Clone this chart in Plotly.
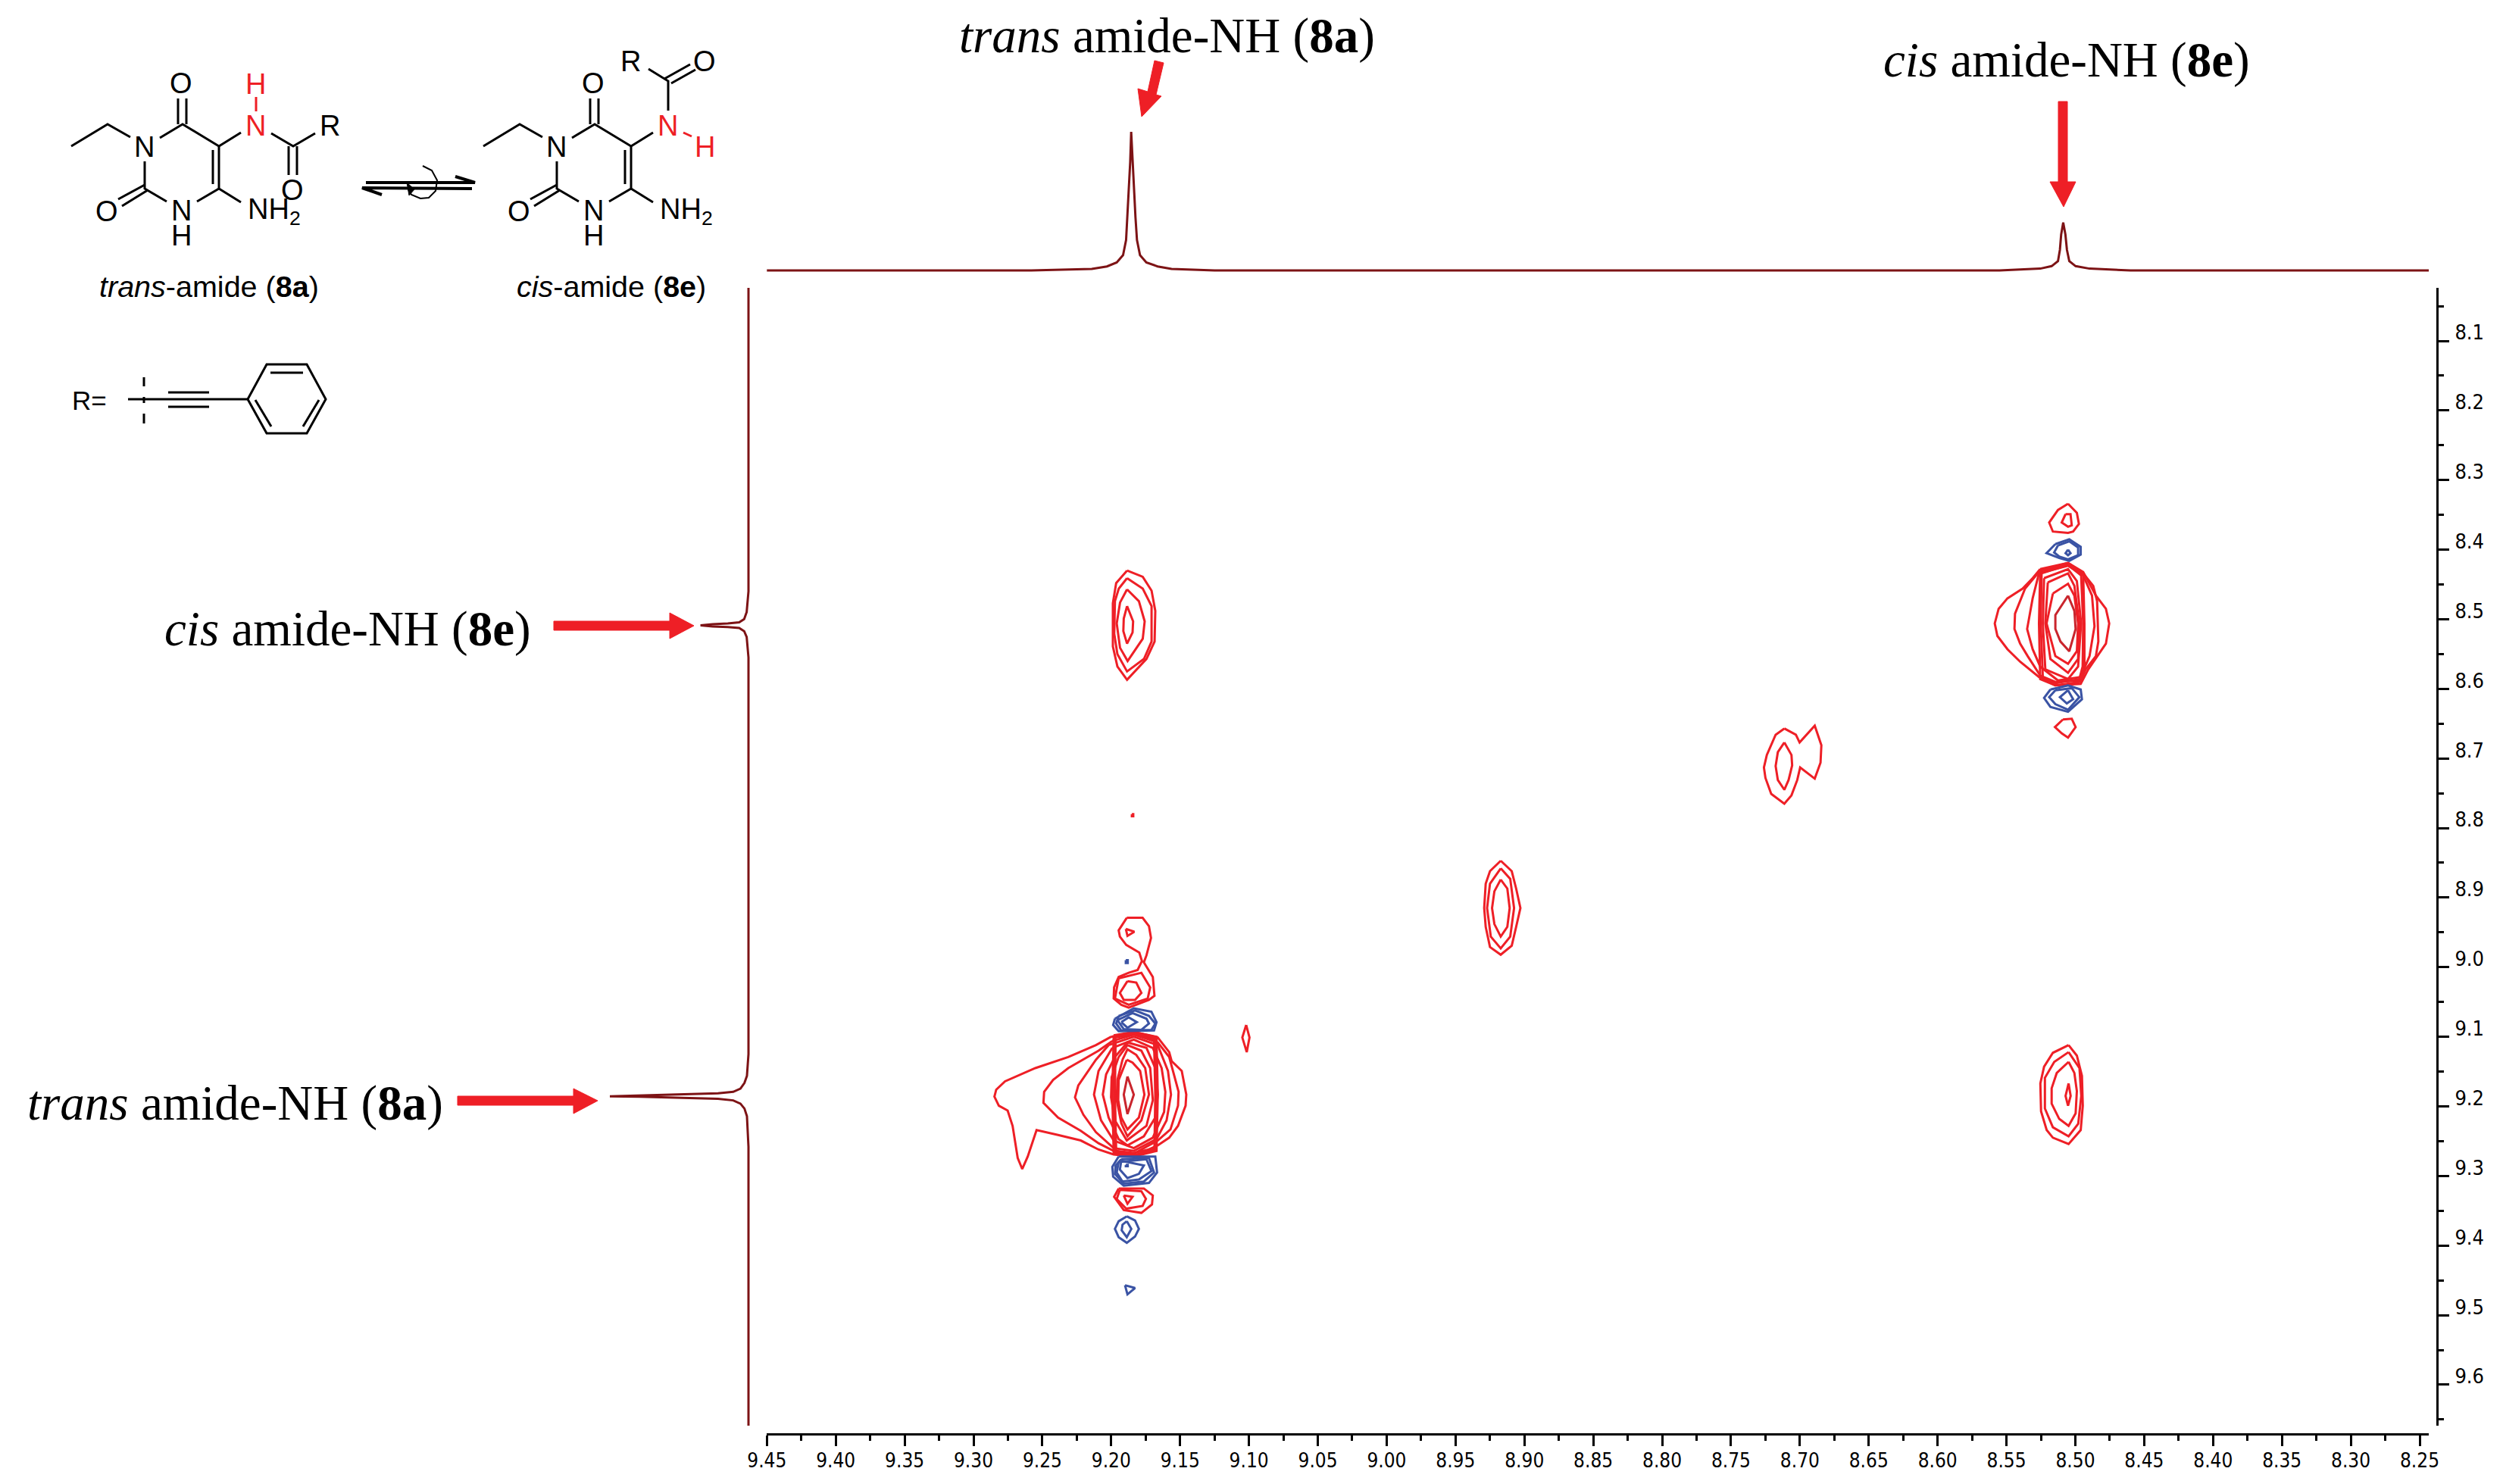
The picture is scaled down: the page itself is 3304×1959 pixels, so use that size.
import plotly.graph_objects as go

WIDTH = 3304
HEIGHT = 1959

RED = "#ee1f26"
DARK_RED = "#c9252d"
BLUE = "#3a53a4"
BROWN = "#7d1315"
SANS = "Liberation Sans"
SERIF = "Liberation Serif"
NARROW = "DejaVu Sans Condensed"

# axes (ppm)
X_TICKS = [9.45, 9.40, 9.35, 9.30, 9.25, 9.20, 9.15, 9.10, 9.05, 9.00, 8.95, 8.90, 8.85,
           8.80, 8.75, 8.70, 8.65, 8.60, 8.55, 8.50, 8.45, 8.40, 8.35, 8.30, 8.25]
X_MINOR = [9.425, 9.375, 9.325, 9.275, 9.225, 9.175, 9.125, 9.075, 9.025, 8.975, 8.925, 8.875,
           8.825, 8.775, 8.725, 8.675, 8.625, 8.575, 8.525, 8.475, 8.425, 8.375, 8.325, 8.275]
Y_TICKS = [8.1, 8.2, 8.3, 8.4, 8.5, 8.6, 8.7, 8.8, 8.9, 9.0, 9.1, 9.2, 9.3, 9.4, 9.5, 9.6]
Y_MINOR = [8.05, 8.15, 8.25, 8.35, 8.45, 8.55, 8.65, 8.75, 8.85, 8.95, 9.05, 9.15, 9.25, 9.35,
           9.45, 9.55, 9.65]

# 1D projection, same trace along both axes
PROJ_PPM = [9.6588, 9.45, 9.264, 9.258, 9.2141, 9.2031, 9.1960, 9.1914, 9.1892, 9.1882, 9.1870,
            9.1862, 9.1855, 9.1844, 9.1837, 9.1824, 9.1813, 9.1791, 9.1745, 9.1663, 9.1562, 9.125,
            8.555, 8.5255, 8.5172, 8.5126, 8.5112, 8.5103, 8.5088, 8.5072, 8.5061, 8.5044, 8.4998,
            8.4897, 8.46, 8.2434, 8.0238]
PROJ_INT = [0, 0, 0.3, 0, 1.1, 2.9, 5.8, 11, 22, 38.5, 60, 78.5, 100, 78.5, 60, 38.5, 22, 11,
            5.8, 2.9, 1.1, 0, 0, 1.3, 3.1, 6.7, 14.9, 25.8, 34.6, 25.8, 14.9, 6.7, 3.1, 1.3, 0, 0, 0]

# contours, (F2 ppm, F1 ppm)
TRANS_MAIN = [
    [(9.2001, 9.100), (9.2111, 9.112), (9.2312, 9.129), (9.2551, 9.145), (9.2771, 9.164), (9.2835, 9.176),
     (9.2848, 9.186), (9.2816, 9.199), (9.2752, 9.206), (9.2716, 9.228), (9.2679, 9.274), (9.2646, 9.290),
     (9.2606, 9.272), (9.2542, 9.234), (9.2386, 9.241), (9.2221, 9.249), (9.2092, 9.262), (9.1982, 9.269),
     (9.1836, 9.272), (9.1662, 9.256), (9.1579, 9.245), (9.1515, 9.228), (9.1460, 9.199), (9.1455, 9.183),
     (9.1488, 9.149), (9.1561, 9.135), (9.1579, 9.122), (9.1662, 9.101), (9.1836, 9.093)],
    [(9.1992, 9.106), (9.2092, 9.120), (9.2312, 9.145), (9.2422, 9.162), (9.2487, 9.179), (9.2492, 9.195),
     (9.2386, 9.216), (9.2221, 9.235), (9.2092, 9.253), (9.1982, 9.264), (9.1836, 9.268), (9.1662, 9.249),
     (9.1570, 9.233), (9.1515, 9.199), (9.1511, 9.179), (9.1543, 9.154), (9.1579, 9.129), (9.1662, 9.108),
     (9.1836, 9.097)],
    [(9.2019, 9.112), (9.2111, 9.133), (9.2239, 9.170), (9.2263, 9.187), (9.2202, 9.212), (9.2111, 9.237),
     (9.1982, 9.260), (9.1836, 9.264), (9.1671, 9.247), (9.1598, 9.220), (9.1566, 9.183), (9.1588, 9.149),
     (9.1662, 9.112), (9.1836, 9.100)],
    [(9.1992, 9.116), (9.2092, 9.149), (9.2125, 9.183), (9.2074, 9.220), (9.1982, 9.249), (9.1836, 9.260),
     (9.1698, 9.245), (9.1616, 9.208), (9.1607, 9.179), (9.1634, 9.145), (9.1698, 9.116), (9.1836, 9.104)],
    [(9.1973, 9.129), (9.2037, 9.154), (9.2061, 9.183), (9.2019, 9.216), (9.1946, 9.247), (9.1882, 9.256),
     (9.1763, 9.243), (9.1680, 9.216), (9.1662, 9.183), (9.1680, 9.145), (9.1744, 9.116), (9.1882, 9.108)],
    [(9.1946, 9.129), (9.1997, 9.158), (9.2001, 9.187), (9.1973, 9.220), (9.1887, 9.249), (9.1744, 9.228),
     (9.1698, 9.191), (9.1717, 9.145), (9.1781, 9.120), (9.1882, 9.112)],
    [(9.1918, 9.133), (9.1955, 9.162), (9.1960, 9.191), (9.1927, 9.224), (9.1882, 9.243), (9.1781, 9.220),
     (9.1726, 9.183), (9.1753, 9.145), (9.1818, 9.126), (9.1882, 9.118)],
    [(9.1887, 9.133), (9.1946, 9.162), (9.1949, 9.191), (9.1927, 9.216), (9.1882, 9.233), (9.1799, 9.216),
     (9.1759, 9.183), (9.1790, 9.149), (9.1845, 9.137)],
    [(9.1982, 9.098), (9.1992, 9.183), (9.1982, 9.268), (9.1836, 9.272), (9.1671, 9.264), (9.1662, 9.183),
     (9.1671, 9.100), (9.1836, 9.093)],
    [(9.1968, 9.101), (9.1973, 9.183), (9.1964, 9.264), (9.1836, 9.267), (9.1686, 9.260), (9.1680, 9.183),
     (9.1689, 9.104), (9.1836, 9.096)],
    [(9.1978, 9.100), (9.1979, 9.183), (9.1973, 9.266), (9.1836, 9.270), (9.1680, 9.262), (9.1671, 9.183),
     (9.1680, 9.102), (9.1836, 9.095)],
]
TRANS_CORE = [[(9.1882, 9.157), (9.1909, 9.183), (9.1882, 9.211), (9.1836, 9.183)]]
TRANS_RED_LOBES = [
    [(9.1887, 8.929), (9.1772, 8.929), (9.1726, 8.941), (9.1711, 8.958), (9.1744, 8.983), (9.1763, 8.993),
     (9.1698, 9.014), (9.1686, 9.041), (9.1726, 9.047), (9.1873, 9.058), (9.1927, 9.054), (9.1982, 9.045),
     (9.1979, 9.029), (9.1946, 9.014), (9.1873, 9.008), (9.1808, 9.004), (9.1777, 8.991), (9.1796, 8.979),
     (9.1891, 8.968), (9.1937, 8.956), (9.1946, 8.947)],
    [(9.1894, 8.945), (9.1832, 8.949), (9.1882, 8.955)],
    [(9.1946, 9.016), (9.1781, 9.008), (9.1717, 9.029), (9.1735, 9.045), (9.1873, 9.054), (9.1973, 9.045)],
    [(9.1882, 9.020), (9.1818, 9.022), (9.1781, 9.037), (9.1827, 9.047), (9.1909, 9.047), (9.1937, 9.037)],
    [(9.1946, 9.318), (9.1763, 9.318), (9.1698, 9.328), (9.1704, 9.341), (9.1781, 9.353), (9.1909, 9.349),
     (9.1979, 9.330)],
    [(9.1937, 9.320), (9.1781, 9.322), (9.1748, 9.333), (9.1772, 9.343), (9.1891, 9.347), (9.1960, 9.333)],
    [(9.1909, 9.328), (9.1845, 9.330), (9.1882, 9.340)],
]
TRANS_BLUE_LOBES = [
    [(9.1894, 8.990), (9.1880, 8.990), (9.1880, 8.994), (9.1894, 8.994)],
    [(9.1973, 9.074), (9.1836, 9.059), (9.1708, 9.064), (9.1671, 9.079), (9.1689, 9.091), (9.1946, 9.092),
     (9.1986, 9.083)],
    [(9.1946, 9.070), (9.1827, 9.062), (9.1726, 9.070), (9.1680, 9.081), (9.1708, 9.090), (9.1927, 9.091),
     (9.1964, 9.081)],
    [(9.1955, 9.076), (9.1845, 9.066), (9.1744, 9.074), (9.1726, 9.081), (9.1781, 9.090), (9.1909, 9.089)],
    [(9.1927, 9.079), (9.1873, 9.072), (9.1814, 9.079), (9.1882, 9.087)],
    [(9.1946, 9.272), (9.1680, 9.272), (9.1667, 9.295), (9.1726, 9.310), (9.1909, 9.314), (9.1986, 9.301),
     (9.1992, 9.287)],
    [(9.1927, 9.276), (9.1726, 9.274), (9.1689, 9.295), (9.1763, 9.308), (9.1909, 9.311), (9.1973, 9.297),
     (9.1968, 9.285)],
    [(9.1946, 9.280), (9.1744, 9.276), (9.1708, 9.293), (9.1799, 9.305), (9.1918, 9.308), (9.1960, 9.295)],
    [(9.1927, 9.278), (9.1763, 9.285), (9.1799, 9.297), (9.1882, 9.303), (9.1937, 9.291)],
    [(9.1894, 9.284), (9.1880, 9.284), (9.1880, 9.286), (9.1894, 9.286)],
    [(9.1887, 9.358), (9.1827, 9.364), (9.1799, 9.376), (9.1827, 9.387), (9.1887, 9.396), (9.1946, 9.388),
     (9.1973, 9.376), (9.1946, 9.365)],
    [(9.1887, 9.365), (9.1854, 9.376), (9.1887, 9.388), (9.1924, 9.378), (9.1918, 9.370)],
    [(9.1900, 9.457), (9.1827, 9.461), (9.1882, 9.470)],
]
WEAK_9_10 = [[(9.1020, 9.083), (9.0996, 9.101), (9.1016, 9.122), (9.1048, 9.101)]]
SPECK_8_78 = [[(9.1850, 8.780), (9.1840, 8.780), (9.1840, 8.783), (9.1850, 8.783)]]

CIS_MAIN = [
    [(8.5255, 8.428), (8.5310, 8.441), (8.5383, 8.456), (8.5493, 8.470), (8.5557, 8.485), (8.5585, 8.506),
     (8.5566, 8.524), (8.5493, 8.543), (8.5401, 8.561), (8.5264, 8.583), (8.5145, 8.595), (8.4961, 8.593),
     (8.4906, 8.572), (8.4842, 8.553), (8.4778, 8.535), (8.4754, 8.506), (8.4778, 8.485), (8.4851, 8.466),
     (8.4943, 8.432), (8.5053, 8.419)],
    [(8.5264, 8.432), (8.5365, 8.456), (8.5438, 8.492), (8.5442, 8.514), (8.5401, 8.535), (8.5346, 8.553),
     (8.5255, 8.581), (8.5145, 8.590), (8.4961, 8.588), (8.4925, 8.572), (8.4851, 8.553), (8.4833, 8.532),
     (8.4842, 8.474), (8.4870, 8.452), (8.4943, 8.434), (8.5053, 8.421)],
    [(8.5264, 8.434), (8.5310, 8.470), (8.5350, 8.514), (8.5310, 8.543), (8.5255, 8.568), (8.5126, 8.588),
     (8.4961, 8.583), (8.4897, 8.553), (8.4861, 8.510), (8.4879, 8.466), (8.4943, 8.437), (8.5053, 8.423)],
    [(8.5255, 8.430), (8.5264, 8.506), (8.5255, 8.586), (8.5145, 8.595), (8.4961, 8.590), (8.4934, 8.572),
     (8.4934, 8.506), (8.4943, 8.434), (8.5053, 8.419)],
    [(8.5245, 8.434), (8.5251, 8.506), (8.5236, 8.584), (8.5145, 8.592), (8.4971, 8.586), (8.4947, 8.568),
     (8.4943, 8.506), (8.4958, 8.437), (8.5053, 8.422)],
    [(8.5227, 8.441), (8.5236, 8.506), (8.5218, 8.572), (8.5053, 8.586), (8.4980, 8.568), (8.4958, 8.506),
     (8.4989, 8.445), (8.5053, 8.428)],
    [(8.5200, 8.447), (8.5218, 8.506), (8.5181, 8.557), (8.5053, 8.577), (8.4980, 8.557), (8.4971, 8.506),
     (8.5007, 8.452), (8.5053, 8.434)],
    [(8.5163, 8.463), (8.5209, 8.506), (8.5145, 8.553), (8.5053, 8.564), (8.4989, 8.546), (8.4980, 8.506),
     (8.5007, 8.466), (8.5053, 8.449)],
]
CIS_CORE = [[(8.5053, 8.466), (8.5145, 8.494), (8.5145, 8.514), (8.5108, 8.532), (8.5044, 8.546), (8.4998, 8.514),
             (8.5007, 8.488)]]
CIS_RED_LOBES = [
    [(8.5053, 8.334), (8.4989, 8.347), (8.4974, 8.363), (8.5016, 8.374), (8.5053, 8.376), (8.5163, 8.374),
     (8.5190, 8.361), (8.5126, 8.343)],
    [(8.5071, 8.349), (8.5035, 8.349), (8.5026, 8.365), (8.5053, 8.367), (8.5099, 8.361)],
    [(8.5090, 8.644), (8.5026, 8.643), (8.4998, 8.655), (8.5053, 8.670), (8.5099, 8.664), (8.5148, 8.655)],
]
CIS_BLUE_LOBES = [
    [(8.5145, 8.392), (8.5044, 8.385), (8.4961, 8.396), (8.4961, 8.407), (8.5044, 8.416), (8.5117, 8.412),
     (8.5209, 8.405)],
    [(8.5126, 8.394), (8.5044, 8.388), (8.4980, 8.397), (8.4980, 8.408), (8.5053, 8.414), (8.5117, 8.410),
     (8.5154, 8.404)],
    [(8.5053, 8.400), (8.5035, 8.405), (8.5053, 8.408), (8.5071, 8.405)],
    [(8.5181, 8.601), (8.5053, 8.595), (8.4961, 8.601), (8.4952, 8.615), (8.5053, 8.633), (8.5181, 8.626),
     (8.5227, 8.613)],
    [(8.5145, 8.602), (8.5026, 8.599), (8.4971, 8.612), (8.5053, 8.630), (8.5145, 8.622), (8.5190, 8.612)],
    [(8.5053, 8.602), (8.5016, 8.615), (8.5062, 8.621), (8.5112, 8.612)],
]
CROSS_8_51 = [
    [(9.1885, 8.430), (9.1771, 8.439), (9.1707, 8.459), (9.1680, 8.488), (9.1685, 8.532), (9.1744, 8.557),
     (9.1885, 8.587), (9.1955, 8.568), (9.1988, 8.539), (9.1988, 8.477), (9.1964, 8.448)],
    [(9.1885, 8.441), (9.1771, 8.456), (9.1707, 8.481), (9.1707, 8.532), (9.1762, 8.557), (9.1885, 8.575),
     (9.1955, 8.550), (9.1978, 8.521), (9.1973, 8.474), (9.1945, 8.456)],
    [(9.1885, 8.457), (9.1799, 8.474), (9.1757, 8.503), (9.1771, 8.528), (9.1881, 8.560), (9.1936, 8.541),
     (9.1960, 8.506), (9.1936, 8.476)],
    [(9.1885, 8.481), (9.1841, 8.503), (9.1845, 8.519), (9.1885, 8.535), (9.1912, 8.517), (9.1909, 8.499)],
]
CROSS_9_19 = [
    [(8.5049, 9.112), (8.5163, 9.123), (8.5227, 9.143), (8.5254, 9.167), (8.5249, 9.207), (8.5208, 9.234),
     (8.5163, 9.245), (8.5049, 9.254), (8.4961, 9.234), (8.4946, 9.199), (8.4952, 9.156), (8.4989, 9.127)],
    [(8.5049, 9.122), (8.5153, 9.136), (8.5221, 9.159), (8.5221, 9.203), (8.5163, 9.230), (8.5049, 9.243),
     (8.4979, 9.225), (8.4957, 9.185), (8.4970, 9.145)],
    [(8.5049, 9.136), (8.5135, 9.152), (8.5172, 9.174), (8.5172, 9.196), (8.5117, 9.218), (8.5049, 9.228),
     (8.4998, 9.210), (8.4989, 9.178), (8.5007, 9.152)],
    [(8.5049, 9.167), (8.5071, 9.185), (8.5053, 9.199), (8.5034, 9.185)],
]
DIAG_8_91 = [
    [(8.9172, 8.847), (8.9092, 8.862), (8.9060, 8.887), (8.9029, 8.915), (8.9060, 8.942), (8.9092, 8.969),
     (8.9172, 8.982), (8.9250, 8.971), (8.9281, 8.942), (8.9292, 8.915), (8.9281, 8.880), (8.9250, 8.862)],
    [(8.9172, 8.858), (8.9103, 8.873), (8.9075, 8.915), (8.9103, 8.956), (8.9172, 8.973), (8.9244, 8.956),
     (8.9271, 8.915), (8.9250, 8.880)],
    [(8.9172, 8.874), (8.9124, 8.887), (8.9107, 8.915), (8.9124, 8.942), (8.9172, 8.956), (8.9218, 8.938),
     (8.9235, 8.915), (8.9218, 8.891)],
]
DIAG_8_71 = [
    [(8.7113, 8.657), (8.7029, 8.666), (8.7002, 8.677), (8.6892, 8.653), (8.6844, 8.681), (8.6850, 8.706),
     (8.6892, 8.729), (8.6998, 8.713), (8.7019, 8.731), (8.7061, 8.753), (8.7113, 8.765), (8.7208, 8.751),
     (8.7250, 8.728), (8.7261, 8.713), (8.7240, 8.695), (8.7176, 8.666)],
    [(8.7113, 8.677), (8.7061, 8.695), (8.7056, 8.710), (8.7082, 8.731), (8.7113, 8.745), (8.7160, 8.731),
     (8.7176, 8.711), (8.7160, 8.691)],
]

# scheme drawing, in page pixels
RING_BONDS = [
    [(94, 193), (142, 164), (172, 181)], [(211, 182), (241, 164), (289, 193)],
    [(235, 164), (235, 130)], [(246, 164), (246, 130)],
    [(289, 193), (289, 249)], [(281, 198), (281, 243)],
    [(289, 249), (318, 267)], [(289, 249), (260, 266)],
    [(220, 266), (191, 249), (191, 213)],
    [(191, 244), (156, 263)], [(195, 251), (161, 272)],
    [(289, 193), (318, 175)],
]
TRANS_AMIDE_BONDS = [[(358, 176), (387, 193), (416, 176)], [(381, 193), (381, 231)], [(392, 193), (392, 231)]]
CIS_AMIDE_BONDS = [[(882, 146), (882, 107), (856, 91)], [(877, 104), (911, 85)], [(886, 110), (918, 92)]]
RED_BONDS = [[(338, 128), (338, 147)], [(902, 175), (913, 180)]]
EQUILIBRIUM = [[(483, 241), (627, 241), (601, 233)], [(623, 249), (478, 248), (504, 257)]]
ROTATION = [(558, 219), (570, 225), (577, 238), (575, 252), (566, 261), (555, 262), (543, 257), (539, 250)]
R_GROUP = [
    [(190, 498), (190, 510)], [(190, 524), (190, 532)], [(190, 546), (190, 559)],
    [(169, 527), (327, 527)], [(222, 518), (276, 518)], [(222, 537), (276, 537)],
    [(327, 527), (352, 481), (405, 481), (430, 527), (405, 572), (352, 572), (327, 527)],
    [(357, 492), (400, 492)], [(337, 528), (358, 563)], [(421, 528), (400, 563)],
]
RED_ARROWS = [
    [(1524, 80), (1536, 83), (1526, 125), (1533, 127), (1507, 154), (1502, 117), (1515, 121)],
    [(2717, 134), (2729, 134), (2729, 240), (2740, 240), (2724, 273), (2706, 240), (2717, 240)],
    [(731, 820), (884, 820), (884, 809), (916, 826), (884, 843), (884, 832), (731, 832)],
    [(604, 1447), (757, 1447), (757, 1437), (789, 1453), (757, 1470), (757, 1459), (604, 1459)],
]
ROT_HEAD = [(537, 241), (540, 258), (547, 250)]

ATOMS = [
    ("O", 239, 110, "black"), ("N", 190, 194, "black"), ("N", 239, 278, "black"), ("H", 239, 311, "black"),
    ("O", 141, 279, "black"), ("H", 337, 111, RED), ("N", 337, 166, RED), ("R", 435, 166, "black"),
    ("O", 386, 251, "black"),
    ("O", 783, 110, "black"), ("N", 734, 194, "black"), ("N", 783, 278, "black"), ("H", 783, 311, "black"),
    ("O", 685, 279, "black"), ("N", 881, 166, RED), ("H", 930, 194, RED), ("R", 832, 81, "black"),
    ("O", 930, 81, "black"),
]
NH2_LABELS = [(325, 279), (869, 279)]
CAPTIONS = [("<i>trans</i>-amide (<b>8a</b>)", 276, 378), ("<i>cis</i>-amide (<b>8e</b>)", 807, 378)]
SIGNAL_LABELS = [
    ("<i>trans</i> amide-NH (<b>8a</b>)", 1540, 47),
    ("<i>cis</i> amide-NH (<b>8e</b>)", 2728, 79),
    ("<i>cis</i> amide-NH (<b>8e</b>)", 459, 830),
    ("<i>trans</i> amide-NH (<b>8a</b>)", 310, 1456),
]


def add_contours(fig, contours, color):
    for c in contours:
        pts = c + c[:1]
        fig.add_trace(go.Scatter(x=[p[0] for p in pts], y=[p[1] for p in pts], mode="lines",
                                 line=dict(color=color, width=3), xaxis="x", yaxis="y"))


def add_drawing(fig, paths, color="black", width=3):
    xs, ys = [], []
    for path in paths:
        xs += [p[0] for p in path] + [None]
        ys += [p[1] for p in path] + [None]
    fig.add_trace(go.Scatter(x=xs, y=ys, mode="lines", line=dict(color=color, width=width),
                             xaxis="x2", yaxis="y2"))


def add_text(fig, text, x, y, size, family, color="black", xanchor="center"):
    fig.add_annotation(text=text, x=x, y=y, xref="x2", yref="y2", showarrow=False,
                       xanchor=xanchor, yanchor="middle", align="center",
                       font=dict(size=size, family=family, color=color))


fig = go.Figure()

for contours, color in [(TRANS_MAIN, RED), (TRANS_CORE, DARK_RED), (TRANS_RED_LOBES, RED),
                        (TRANS_BLUE_LOBES, BLUE), (WEAK_9_10, RED), (SPECK_8_78, RED),
                        (CIS_MAIN, RED), (CIS_CORE, DARK_RED), (CIS_RED_LOBES, RED),
                        (CIS_BLUE_LOBES, BLUE), (CROSS_8_51, RED), (CROSS_9_19, RED),
                        (DIAG_8_91, RED), (DIAG_8_71, RED)]:
    add_contours(fig, contours, color)

# projections
fig.add_trace(go.Scatter(x=PROJ_PPM, y=PROJ_INT, mode="lines", line=dict(color=BROWN, width=3),
                         xaxis="x", yaxis="y3"))
fig.add_trace(go.Scatter(x=PROJ_INT, y=PROJ_PPM, mode="lines", line=dict(color=BROWN, width=3),
                         xaxis="x3", yaxis="y"))
# keeps the label-only axis alive
fig.add_trace(go.Scatter(x=[None], y=[None], mode="lines", xaxis="x", yaxis="y4"))

# scheme
add_drawing(fig, RING_BONDS + TRANS_AMIDE_BONDS)
add_drawing(fig, [[(x + 544, y) for x, y in path] for path in RING_BONDS] + CIS_AMIDE_BONDS)
add_drawing(fig, RED_BONDS, color=RED)
add_drawing(fig, EQUILIBRIUM, width=4)
add_drawing(fig, [ROTATION], width=2)
add_drawing(fig, R_GROUP)
for poly, color in [(p, RED) for p in RED_ARROWS] + [(ROT_HEAD, "black")]:
    pts = poly + poly[:1]
    fig.add_trace(go.Scatter(x=[p[0] for p in pts], y=[p[1] for p in pts], mode="lines", fill="toself",
                             fillcolor=color, line=dict(color=color, width=1), xaxis="x2", yaxis="y2"))

for text, x, y, color in ATOMS:
    add_text(fig, text, x, y, 38, SANS, color)
for x, y in NH2_LABELS:
    add_text(fig, "NH<sub>2</sub>", x, y, 38, SANS, xanchor="left")
add_text(fig, "R=", 93, 528, 35, SANS, xanchor="left")
for text, x, y in CAPTIONS:
    add_text(fig, text, x, y, 39.5, SANS)
for text, x, y in SIGNAL_LABELS:
    add_text(fig, text, x, y, 65, SERIF)

Y_LABEL_SHIFT = 0.012  # labels sit 11 px above their ticks in the original

fig.update_layout(
    width=WIDTH, height=HEIGHT, margin=dict(l=0, r=0, t=0, b=0, pad=0),
    paper_bgcolor="white", plot_bgcolor="rgba(0,0,0,0)", showlegend=False, hovermode=False,
    xaxis=dict(
        domain=[1012.3 / WIDTH, 3206 / WIDTH], range=[9.45, 8.2434], anchor="free", automargin=False,
        position=(HEIGHT - 1893) / HEIGHT, showgrid=False, zeroline=False, showline=True,
        linecolor="black", linewidth=3, ticks="outside", ticklen=14, tickwidth=3, tickcolor="black",
        tickmode="array", tickvals=X_TICKS, ticktext=[f"{v:.2f}" for v in X_TICKS],
        tickfont=dict(family=NARROW, size=26, color="black"), ticklabelstandoff=-3,
        minor=dict(tickmode="array", tickvals=X_MINOR, ticks="outside", ticklen=7, tickwidth=3,
                   tickcolor="black", showgrid=False),
    ),
    yaxis=dict(
        domain=[(HEIGHT - 1882) / HEIGHT, (HEIGHT - 380) / HEIGHT], range=[9.6588, 8.0238],
        anchor="free", position=3217 / WIDTH, side="right", showgrid=False, zeroline=False, automargin=False,
        showline=True, linecolor="black", linewidth=3, ticks="outside", ticklen=14, tickwidth=3,
        tickcolor="black", tickmode="array", tickvals=Y_TICKS, showticklabels=False,
        minor=dict(tickmode="array", tickvals=Y_MINOR, ticks="outside", ticklen=7, tickwidth=3,
                   tickcolor="black", showgrid=False),
    ),
    # same scale as yaxis, only carries the raised tick labels
    yaxis4=dict(
        domain=[(HEIGHT - 1882) / HEIGHT, (HEIGHT - 380) / HEIGHT],
        range=[9.6588 + Y_LABEL_SHIFT, 8.0238 + Y_LABEL_SHIFT], overlaying="y", anchor="free",
        position=3217 / WIDTH, side="right", showgrid=False, zeroline=False, automargin=False,
        showline=False, ticks="outside", ticklen=14, tickcolor="rgba(0,0,0,0)", tickmode="array",
        tickvals=Y_TICKS, ticktext=[f"{v:.1f}" for v in Y_TICKS], ticklabelstandoff=3,
        tickfont=dict(family=NARROW, size=27, color="black"),
    ),
    # hidden axis with page pixels for the scheme and the labels
    xaxis2=dict(domain=[0, 1], range=[0, WIDTH], visible=False, anchor="y2", automargin=False),
    yaxis2=dict(domain=[0, 1], range=[HEIGHT, 0], visible=False, anchor="x2", automargin=False),
    # intensity axes of the two projections
    xaxis3=dict(domain=[760 / WIDTH, 1000 / WIDTH], range=[124.6, -6.56], visible=False, anchor="y", automargin=False),
    yaxis3=dict(domain=[(HEIGHT - 380) / HEIGHT, (HEIGHT - 150) / HEIGHT], range=[-12.57, 113.1],
                visible=False, anchor="x", automargin=False),
)

# the page's default body margin would push the figure off by 8 px
fig.write_html("out.html", config={"displayModeBar": False},
               post_script="document.body.style.margin = '0';")
